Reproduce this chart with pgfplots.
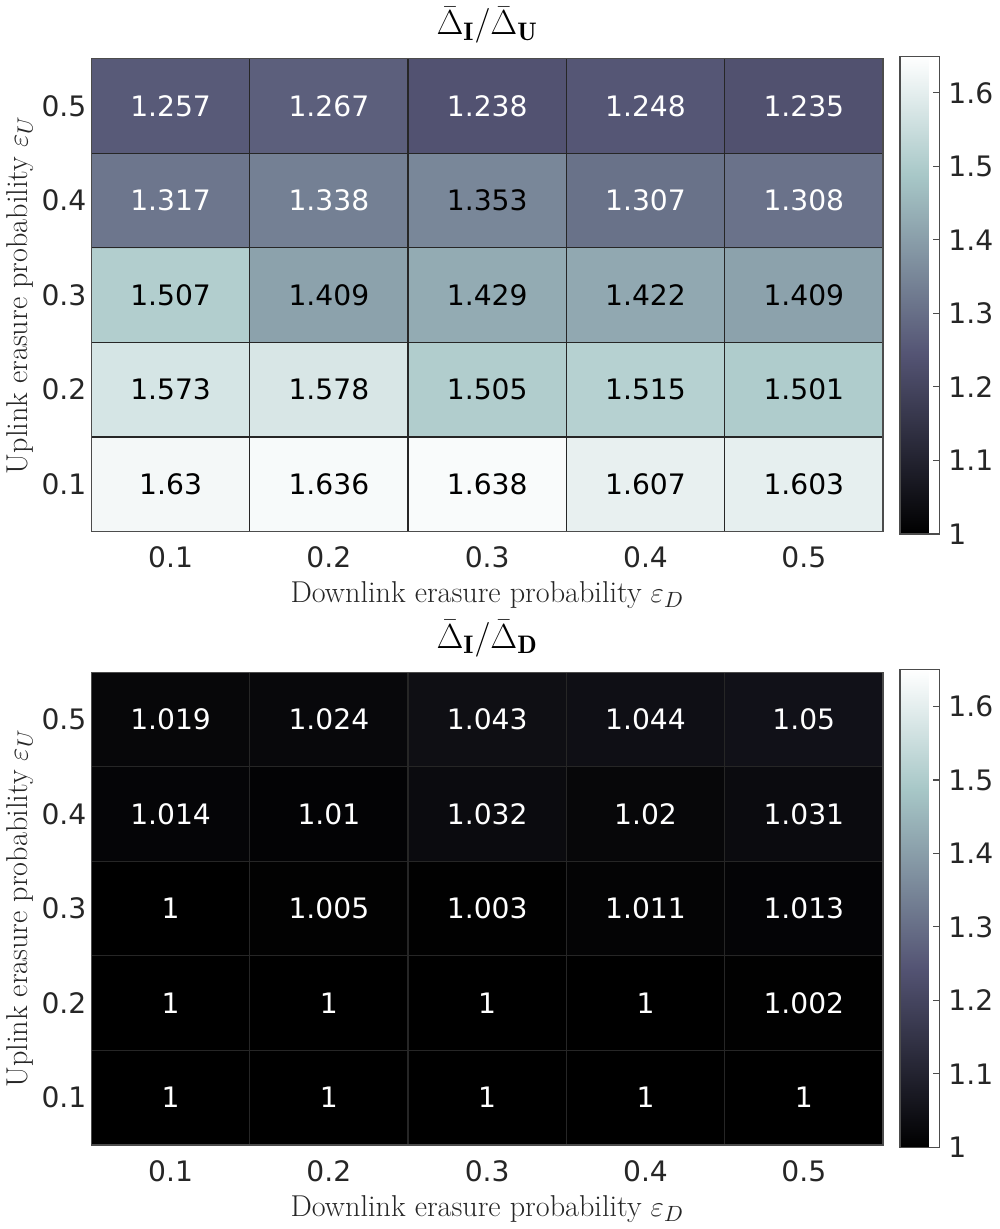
\documentclass[border=0pt]{standalone}
\usepackage{pgfplots}
\usepackage{pgfplotstable}
\pgfplotsset{compat=1.18}
\usepackage{fontspec}
\newfontfamily\dejavu{DejaVu Sans}
\definecolor{txt}{rgb}{0.15,0.15,0.15}
\definecolor{gridc}{rgb}{0.15,0.15,0.15}
\definecolor{axc}{rgb}{0.3,0.3,0.3}

\pgfplotstableread{
x y c
1 1 1.63
2 1 1.636
3 1 1.638
4 1 1.607
5 1 1.603
1 2 1.573
2 2 1.578
3 2 1.505
4 2 1.515
5 2 1.501
1 3 1.507
2 3 1.409
3 3 1.429
4 3 1.422
5 3 1.409
1 4 1.317
2 4 1.338
3 4 1.353
4 4 1.307
5 4 1.308
1 5 1.257
2 5 1.267
3 5 1.238
4 5 1.248
5 5 1.235
}\topdata

\pgfplotstableread{
x y c
1 1 1
2 1 1
3 1 1
4 1 1
5 1 1
1 2 1
2 2 1
3 2 1
4 2 1
5 2 1.002
1 3 1
2 3 1.005
3 3 1.003
4 3 1.011
5 3 1.013
1 4 1.014
2 4 1.01
3 4 1.032
4 4 1.02
5 4 1.031
1 5 1.019
2 5 1.024
3 5 1.043
4 5 1.044
5 5 1.05
}\botdata

\pgfplotsset{
  heat/.style={
    scale only axis, width=393.5pt, height=235pt,
    xmin=0.5, xmax=5.5, ymin=0.5, ymax=5.5,
    xtick={1,2,3,4,5}, ytick={1,2,3,4,5},
    xticklabels={0.1,0.2,0.3,0.4,0.5},
    yticklabels={0.1,0.2,0.3,0.4,0.5},
    major tick length=0pt,
    minor xtick={1.5,2.5,3.5,4.5}, minor ytick={1.5,2.5,3.5,4.5},
    minor tick length=0pt,
    xminorgrids, yminorgrids,
    minor grid style={gridc, line width=0.6pt},
    axis on top,
    axis line style={axc, line width=0.7pt},
    tick label style={font=\dejavu\fontsize{14}{16}\selectfont, text=txt},
    xticklabel style={yshift=-4pt},
    yticklabel style={xshift=1pt},
    label style={font=\fontsize{15}{18}\selectfont, text=txt},
    xlabel={Downlink erasure probability $\varepsilon_D$},
    ylabel={Uplink erasure probability $\varepsilon_U$},
    xlabel style={yshift=0pt},
    ylabel style={yshift=-3pt},
    title style={font=\fontsize{18}{20}\selectfont, yshift=-2pt},
    colormap={bone}{rgb(0pt)=(0,0,0); rgb(3pt)=(0.328125,0.328125,0.453125); rgb(6pt)=(0.65625,0.78125,0.78125); rgb(8pt)=(1,1,1)},
    point meta min=1, point meta max=1.65,
    colorbar,
    colorbar style={
      width=19.5pt, height=237.5pt,
      at={([xshift=9.5pt]parent axis.east)}, anchor=west,
      ytick={1,1.1,1.2,1.3,1.4,1.5,1.6},
      ytick pos=right, tick align=inside,
      major tick length=3pt,
      tick style={axc, line width=0.5pt},
      axis line style={axc, line width=0.7pt},
      yticklabel style={font=\dejavu\fontsize{14}{16}\selectfont, text=txt, /pgf/number format/assume math mode=true, xshift=1pt},
    },
  },
  cell/.style={draw=none, mark=none, nodes near coords, point meta=explicit symbolic,
    nodes near coords style={anchor=center, font=\dejavu\fontsize{14}{16}\selectfont, text=#1}},
}

\begin{document}
\begin{tikzpicture}
\begin{axis}[heat, at={(0,0)}, title={$\bar{\Delta}_{\mathbf{I}}/\bar{\Delta}_{\mathbf{U}}$}]
\addplot[matrix plot*, mesh/cols=5, point meta=explicit] table[x=x, y=y, meta=c] {\topdata};
\addplot[cell=white] coordinates {
(1,5)[1.257] (2,5)[1.267] (3,5)[1.238] (4,5)[1.248] (5,5)[1.235]
(1,4)[1.317] (2,4)[1.338] (4,4)[1.307] (5,4)[1.308]
};
\addplot[cell=black] coordinates {
(3,4)[1.353]
(1,3)[1.507] (2,3)[1.409] (3,3)[1.429] (4,3)[1.422] (5,3)[1.409]
(1,2)[1.573] (2,2)[1.578] (3,2)[1.505] (4,2)[1.515] (5,2)[1.501]
(1,1)[1.63] (2,1)[1.636] (3,1)[1.638] (4,1)[1.607] (5,1)[1.603]
};
\end{axis}
\begin{axis}[heat, at={(0,-305pt)}, title={$\bar{\Delta}_{\mathbf{I}}/\bar{\Delta}_{\mathbf{D}}$}]
\addplot[matrix plot*, mesh/cols=5, point meta=explicit] table[x=x, y=y, meta=c] {\botdata};
\addplot[cell=white] coordinates {
(1,5)[1.019] (2,5)[1.024] (3,5)[1.043] (4,5)[1.044] (5,5)[1.05]
(1,4)[1.014] (2,4)[1.01] (3,4)[1.032] (4,4)[1.02] (5,4)[1.031]
(1,3)[1] (2,3)[1.005] (3,3)[1.003] (4,3)[1.011] (5,3)[1.013]
(1,2)[1] (2,2)[1] (3,2)[1] (4,2)[1] (5,2)[1.002]
(1,1)[1] (2,1)[1] (3,1)[1] (4,1)[1] (5,1)[1]
};
\end{axis}
\end{tikzpicture}
\end{document}
